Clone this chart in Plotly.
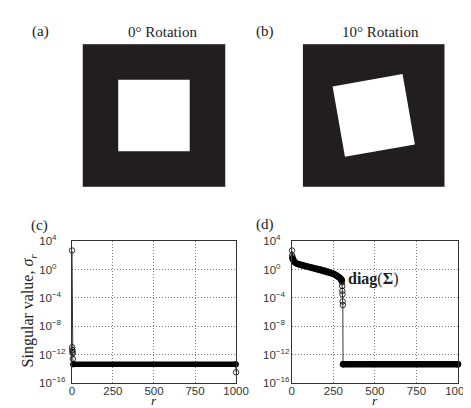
import math
import plotly.graph_objects as go

W, H = 471, 408

# ---------------- data ----------------
# Panels (a) and (b): a white square inside a black frame, rotated by the given angle
rotation_deg = [0, 10]
panel_titles = ["0° Rotation", "10° Rotation"]
frame_half = 1.0          # half side of black image frame
square_half = 0.5         # half side of white square
unit_corners = [(-1, -1), (1, -1), (1, 1), (-1, 1)]

# Panel (c): singular values, 0 deg rotation
c_rank = [1, 2, 3, 4, 5, 6, 8, 999, 1000]
c_sigma = [5.0e2, 1.1e-11, 4.5e-12, 2.5e-12, 1.5e-12, 2.5e-13, 4.3e-14, 4.3e-14, 3.2e-15]
c_band_ranges = [(8, 999)]

# Panel (d): singular values, 10 deg rotation
d_rank = [1, 2, 3, 5, 8, 12, 20, 30, 40, 50, 60, 70, 80, 90, 100, 110, 120, 130,
          140, 150, 160, 170, 180, 190, 200, 210, 220, 230, 240, 250, 260, 270,
          280, 290, 295, 300, 302, 303, 304, 305, 306, 307, 308, 1000]
d_sigma = [5.0e2, 1.0e2, 5.6e1, 3.5e1, 2.2e1, 1.6e1, 1.0e1, 7.1, 5.6, 4.7, 4.0, 3.5,
           3.2, 2.8, 2.5, 2.2, 2.0, 1.8, 1.6, 1.4, 1.26, 1.12, 0.95, 0.83, 0.71,
           0.60, 0.50, 0.42, 0.33, 0.26, 0.20, 0.15, 0.107, 0.071, 0.05, 0.032,
           1.6e-2, 5.0e-3, 1.0e-3, 3.2e-4, 3.2e-5, 1.0e-5, 4.3e-14, 4.3e-14]
d_band_ranges = [(5, 300), (308, 1000)]

x_tickvals = [0, 250, 500, 750, 1000]
x_ticktext = ["0", "250", "500", "750", "1000"]
y_tickvals = [1e-16, 1e-12, 1e-8, 1e-4, 1e0, 1e4]
y_exponents = ["−16", "−12", "−8", "−4", "0", "4"]

panel_letters = ["(a)", "(b)", "(c)", "(d)"]
y_title = "Singular value, <i>σ<sub>r</sub></i>"
x_title = "<i>r</i>"
curve_label = "<b>diag</b>(<b>Σ</b>)"

# ---------------- styling ----------------
SERIF = "Liberation Serif, Times New Roman, serif"
SANS = "Liberation Sans, Arial, sans-serif"
IMG_BLACK = "#221e1f"
FIG_SPACE = "\u2007"

def px_x(x):
    return x / W

def px_y(y):
    return 1 - y / H

# MATLAB-style: the "10" bases line up, exponents hang to the right
max_exp = max(len(e) for e in y_exponents)
y_ticktext = ["10<sup>" + e + FIG_SPACE * (max_exp - len(e)) + "</sup>" for e in y_exponents]

fig = go.Figure()

# image panels
for i, ang in enumerate(rotation_deg):
    xa = "x" if i == 0 else "x2"
    ya = "y" if i == 0 else "y2"
    fx = [c[0] * frame_half for c in unit_corners]
    fy = [c[1] * frame_half for c in unit_corners]
    fig.add_trace(go.Scatter(x=fx, y=fy, fill="toself", fillcolor=IMG_BLACK,
                             mode="lines", line=dict(width=0.6, color="#b0b0b0"),
                             xaxis=xa, yaxis=ya, hoverinfo="skip", showlegend=False))
    t = math.radians(ang)
    sx = [square_half * (c[0] * math.cos(t) - c[1] * math.sin(t)) for c in unit_corners]
    sy = [square_half * (c[0] * math.sin(t) + c[1] * math.cos(t)) for c in unit_corners]
    fig.add_trace(go.Scatter(x=sx, y=sy, fill="toself", fillcolor="white",
                             mode="lines", line=dict(width=0, color="white"),
                             xaxis=xa, yaxis=ya, hoverinfo="skip", showlegend=False))

# singular value panels
for ranks, sig, bands, bw, xa, ya in [(c_rank, c_sigma, c_band_ranges, 5.5, "x3", "y3"),
                                      (d_rank, d_sigma, d_band_ranges, 6.5, "x4", "y4")]:
    for lo, hi in bands:
        bx = [r for r in ranks if lo <= r <= hi]
        by = [s for r, s in zip(ranks, sig) if lo <= r <= hi]
        fig.add_trace(go.Scatter(x=bx, y=by, mode="lines",
                                 line=dict(color="black", width=bw),
                                 xaxis=xa, yaxis=ya, hoverinfo="skip", showlegend=False))
        fig.add_trace(go.Scatter(x=[bx[0], bx[-1]], y=[by[0], by[-1]], mode="markers",
                                 marker=dict(symbol="circle", size=bw, color="black"),
                                 cliponaxis=False,
                                 xaxis=xa, yaxis=ya, hoverinfo="skip", showlegend=False))
    fig.add_trace(go.Scatter(x=ranks, y=sig, mode="lines+markers",
                             line=dict(color="black", width=0.8),
                             marker=dict(symbol="circle-open", size=5.5, color="black",
                                         line=dict(width=0.8, color="black")),
                             cliponaxis=False,
                             xaxis=xa, yaxis=ya, hoverinfo="skip", showlegend=False))

img_axis = dict(range=[-1, 1], visible=False, fixedrange=True)
dom_a_x = [px_x(74), px_x(222)]
dom_b_x = [px_x(302), px_x(449)]
dom_top_y = [px_y(177), px_y(29)]
dom_c_x = [px_x(63), px_x(233)]
dom_d_x = [px_x(290.7), px_x(462.7)]
dom_bot_y = [px_y(380), px_y(233.3)]

grid = dict(showgrid=True, gridcolor="#7a7a7a", griddash="1px,2px", gridwidth=1)
frame = dict(zeroline=False, showline=True, mirror=True, linecolor="#333", linewidth=1,
             ticks="", tickfont=dict(family=SANS, size=11.5, color="#333"))
sv_x = dict(range=[0, 1000], tickvals=x_tickvals, ticktext=x_ticktext,
            ticklabelstandoff=-3, **grid, **frame)
sv_y = dict(type="log", range=[-16, 4], tickvals=y_tickvals, ticktext=y_ticktext,
            **grid, **frame)

fig.update_layout(
    width=W, height=H, margin=dict(l=0, r=0, t=0, b=0),
    paper_bgcolor="white", plot_bgcolor="white", showlegend=False,
    xaxis=dict(domain=dom_a_x, anchor="y", **img_axis),
    yaxis=dict(domain=dom_top_y, anchor="x", **img_axis),
    xaxis2=dict(domain=dom_b_x, anchor="y2", **img_axis),
    yaxis2=dict(domain=dom_top_y, anchor="x2", **img_axis),
    xaxis3=dict(domain=dom_c_x, anchor="y3", **sv_x),
    yaxis3=dict(domain=dom_bot_y, anchor="x3", ticklabelstandoff=3, **sv_y),
    xaxis4=dict(domain=dom_d_x, anchor="y4", **sv_x),
    yaxis4=dict(domain=dom_bot_y, anchor="x4", ticklabelstandoff=-1, **sv_y),
)

ann = []
def text_at(x, y, s, size, family=SERIF, angle=0, yanchor="middle"):
    ann.append(dict(x=px_x(x), y=px_y(y), xref="paper", yref="paper", text=s,
                    showarrow=False, xanchor="center", yanchor=yanchor,
                    textangle=angle, font=dict(family=family, size=size, color="#222")))

text_at(30.5, 16.5, panel_letters[0], 15)
text_at(262.5, 16.5, panel_letters[1], 15)
text_at(30, 217, panel_letters[2], 15)
text_at(263, 216, panel_letters[3], 15)
text_at(156.5, 16.5, panel_titles[0], 15)
text_at(382, 16.5, panel_titles[1], 15)
text_at(18.5, 305, y_title, 16, angle=-90)
text_at(148, 408, x_title, 13.5, yanchor="bottom")
text_at(377, 408, x_title, 13.5, yanchor="bottom")
ann.append(dict(x=327, y=-1.27, xref="x4", yref="y4", text=curve_label,
                showarrow=False, xanchor="left", yanchor="middle",
                font=dict(family=SERIF, size=16, color="#222")))
fig.update_layout(annotations=ann)

fig.write_html("out.html")
